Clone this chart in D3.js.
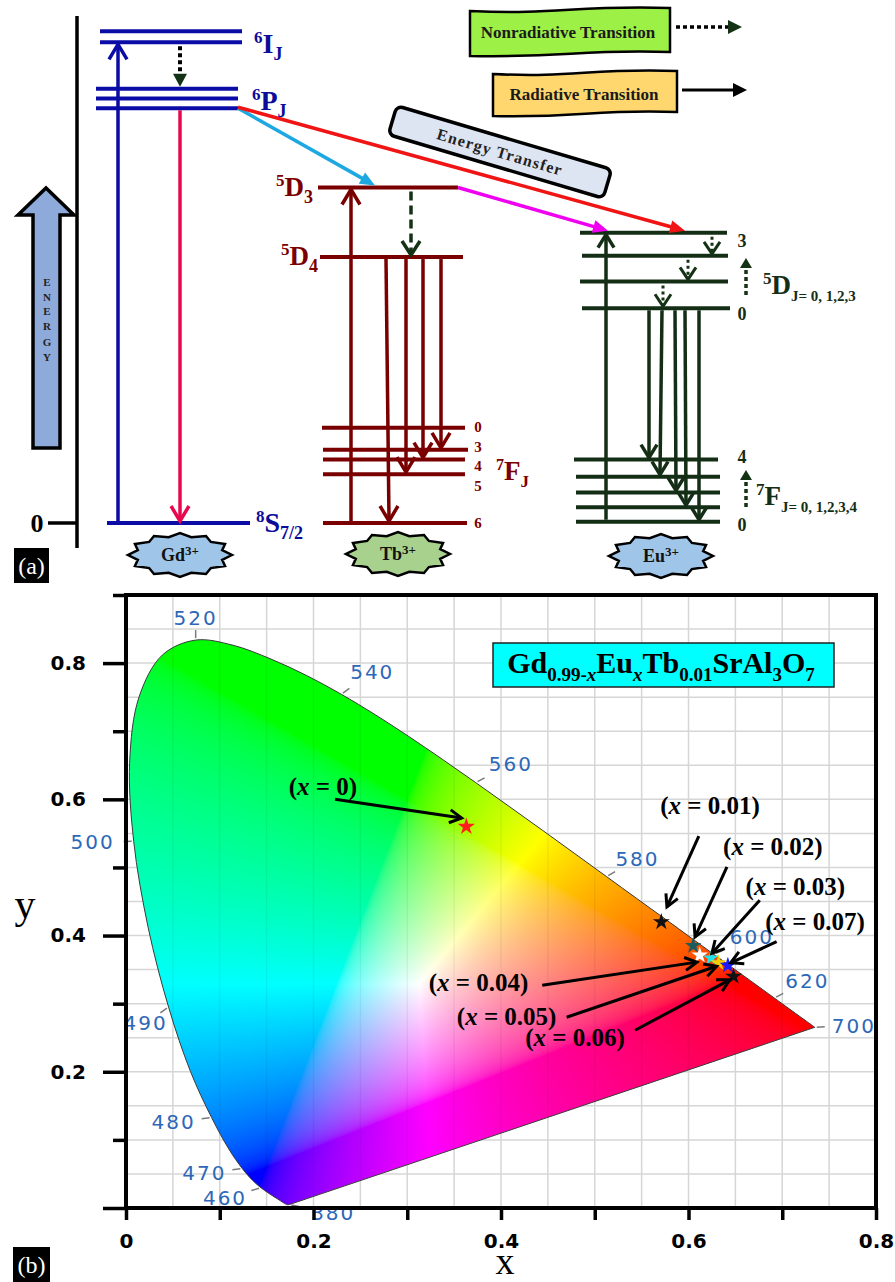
<!DOCTYPE html>
<html>
<head>
<meta charset="utf-8">
<script src="https://cdn.jsdelivr.net/npm/d3@7"></script>
<style>
body { margin: 0; background: #fff; }
svg { display: block; }
text { font-family: "Liberation Serif", "Times New Roman", serif; }
</style>
</head>
<body>
<svg id="fig" width="895" height="1282"></svg>
<script>
// ---------- (a) energy levels, schematic energy (10^3 cm-1)
const gdNames = ["6I_1", "6I_2", "6P_1", "6P_2", "6P_3", "8S"];
const gdE = [40.3, 39.4, 35.6, 34.8, 34.0, 0];
const tbNames = ["5D3", "5D4", "7F0", "7F3", "7F4", "7F5", "7F6"];
const tbE = [27.5, 21.8, 7.8, 6.0, 5.2, 4.0, 0];
const euNames = ["5D3", "5D2", "5D1", "5D0", "7F4", "7F3", "7F2", "7F1", "7F0"];
const euE = [23.8, 21.9, 19.8, 17.6, 5.2, 3.8, 2.5, 1.3, 0.1];

// transitions: kind, from level, to level
const gdTrans = [["abs", "8S", "6I_2"], ["nr", "6I_2", "6P_1"], ["em", "6P_3", "8S"]];
const tbTrans = [["abs", "7F6", "5D3"], ["nr", "5D3", "5D4"], ["em", "5D4", "7F6"],
                 ["em", "5D4", "7F5"], ["em", "5D4", "7F4"], ["em", "5D4", "7F3"]];
const euTrans = [["abs", "7F0", "5D3"], ["nr", "5D3", "5D2"], ["nr", "5D2", "5D1"], ["nr", "5D1", "5D0"],
                 ["em", "5D0", "7F4"], ["em", "5D0", "7F3"], ["em", "5D0", "7F2"], ["em", "5D0", "7F1"], ["em", "5D0", "7F0"]];
// energy transfer: from ion/level to ion/level
const transfers = [["Gd", "6P_3", "Tb", "5D3"], ["Gd", "6P_3", "Eu", "5D3"], ["Tb", "5D3", "Eu", "5D3"]];

// ---------- (b) CIE 1931 spectral locus
const locusNm = [380,385,390,395,400,405,410,415,420,425,430,435,440,445,450,455,460,465,470,475,480,485,490,495,500,505,510,515,520,525,530,535,540,545,550,555,560,565,570,575,580,585,590,595,600,605,610,615,620,625,630,635,640,645,650,655,660,665,670,675,680,685,690,695,700];
const locusX = [0.1741,0.1740,0.1738,0.1736,0.1733,0.1730,0.1726,0.1721,0.1714,0.1703,0.1689,0.1669,0.1644,0.1611,0.1566,0.1510,0.1440,0.1355,0.1241,0.1096,0.0913,0.0687,0.0454,0.0235,0.0082,0.0039,0.0139,0.0389,0.0743,0.1142,0.1547,0.1929,0.2296,0.2658,0.3016,0.3373,0.3731,0.4087,0.4441,0.4788,0.5125,0.5448,0.5752,0.6029,0.6270,0.6482,0.6658,0.6801,0.6915,0.7006,0.7079,0.7140,0.7190,0.7230,0.7260,0.7283,0.7300,0.7311,0.7320,0.7327,0.7334,0.7340,0.7344,0.7346,0.7347];
const locusY = [0.0050,0.0050,0.0049,0.0049,0.0048,0.0048,0.0048,0.0048,0.0051,0.0058,0.0069,0.0086,0.0109,0.0138,0.0177,0.0227,0.0297,0.0399,0.0578,0.0868,0.1327,0.2007,0.2950,0.4127,0.5384,0.6548,0.7502,0.8120,0.8338,0.8262,0.8059,0.7816,0.7543,0.7243,0.6923,0.6589,0.6245,0.5896,0.5547,0.5202,0.4866,0.4544,0.4242,0.3965,0.3725,0.3514,0.3340,0.3197,0.3083,0.2993,0.2920,0.2859,0.2809,0.2770,0.2740,0.2717,0.2700,0.2689,0.2680,0.2673,0.2666,0.2660,0.2656,0.2654,0.2653];
const wlLabels = [460, 470, 480, 490, 500, 520, 540, 560, 580, 600, 620, 700, 380];

// measured CIE coordinates
const dopings = ["0", "0.01", "0.02", "0.03", "0.04", "0.05", "0.06", "0.07"];
const cieX = [0.363, 0.571, 0.605, 0.624, 0.612, 0.632, 0.648, 0.642];
const cieY = [0.560, 0.420, 0.385, 0.367, 0.371, 0.360, 0.340, 0.356];

const xTicks = [0, 0.1, 0.2, 0.3, 0.4, 0.5, 0.6, 0.7, 0.8];
const yMajor = [0, 0.2, 0.4, 0.6, 0.8];
const yMinor = [0.1, 0.3, 0.5, 0.7, 0.9];

const svg = d3.select("#fig");
svg.append("rect").attr("width", 895).attr("height", 1282).attr("fill", "#fff");

// ---------------- helpers
function richText(g, x, y, parts, size, fill, anchor) {
    const t = g.append("text")
        .attr("x", x).attr("y", y)
        .attr("font-size", size)
        .attr("font-weight", "bold")
        .attr("fill", fill)
        .attr("text-anchor", anchor || "start");
    let shift = 0;
    parts.forEach(p => {
        const s = p.size || (p.sub || p.sup ? Math.round(size * 0.62) : size);
        const off = p.sub ? size * 0.26 : p.sup ? -size * 0.36 : 0;
        const ts = t.append("tspan").attr("dy", off - shift).attr("font-size", s).text(p.t);
        if (p.it) ts.attr("font-style", "italic");
        shift = off;
    });
    return t;
}

function chevron(g, x, y, dir, hw, hl, color, sw) {
    g.append("path")
        .attr("d", `M${x - hw},${y - dir * hl}L${x},${y}L${x + hw},${y - dir * hl}`)
        .attr("fill", "none").attr("stroke", color).attr("stroke-width", sw)
        .attr("stroke-linejoin", "miter").attr("stroke-linecap", "butt");
}

function headTowards(g, x1, y1, x2, y2, len, hw, color, filled, sw) {
    const a = Math.atan2(y2 - y1, x2 - x1);
    const bx = x2 - len * Math.cos(a), by = y2 - len * Math.sin(a);
    const px = -Math.sin(a) * hw, py = Math.cos(a) * hw;
    const p = g.append("path");
    if (filled) {
        p.attr("d", `M${x2},${y2}L${bx + px},${by + py}L${bx - px},${by - py}Z`).attr("fill", color);
    } else {
        p.attr("d", `M${bx + px},${by + py}L${x2},${y2}L${bx - px},${by - py}`)
            .attr("fill", "none").attr("stroke", color).attr("stroke-width", sw);
    }
}

// ---------------- panel (a)
const gA = svg.append("g");
const yE = d3.scaleLinear().domain([0, 40]).range([523, 35]);

const ionColor = { Gd: "#0b0ba6", Tb: "#7a0000", Eu: "#142e16" };
const levelE = {
    Gd: Object.fromEntries(gdNames.map((n, i) => [n, gdE[i]])),
    Tb: Object.fromEntries(tbNames.map((n, i) => [n, tbE[i]])),
    Eu: Object.fromEntries(euNames.map((n, i) => [n, euE[i]]))
};
// horizontal extent of each level line
const levelSpan = {
    Gd: [[100, 242], [100, 242], [96, 238], [96, 238], [96, 238], [107, 250]],
    Tb: [[318, 458], [320, 463], [322, 465], [323, 468], [323, 465], [323, 465], [323, 467]],
    Eu: [[580, 727], [582, 728], [580, 728], [582, 730], [574, 718], [576, 720], [576, 720], [576, 720], [576, 720]]
};
// x of each transition arrow (top, bottom)
const transX = {
    Gd: [[118, 118], [180, 180], [180, 180]],
    Tb: [[351, 351], [411, 411], [386, 389], [406, 406], [423, 423], [441, 441]],
    Eu: [[606, 606], [712, 712], [688, 688], [663, 663], [649, 649], [662, 660], [675, 676], [685, 686], [699, 699]]
};

// energy axis
gA.append("line").attr("x1", 77).attr("x2", 77).attr("y1", 16).attr("y2", 548)
    .attr("stroke", "#000").attr("stroke-width", 3.5);
gA.append("line").attr("x1", 48).attr("x2", 77).attr("y1", yE(0)).attr("y2", yE(0))
    .attr("stroke", "#000").attr("stroke-width", 3.5);
gA.append("text").attr("x", 37).attr("y", yE(0)).attr("dy", "0.36em").attr("text-anchor", "middle")
    .attr("font-size", 26).attr("font-weight", "bold").text("0");

// ENERGY block arrow
gA.append("path")
    .attr("d", "M33,448L33,215L18,215L46,188L74,215L60,215L60,448Z")
    .attr("fill", "#8eaadb").attr("stroke", "#000").attr("stroke-width", 3.5).attr("stroke-linejoin", "miter");
"ENERGY".split("").forEach((c, i) => {
    gA.append("text").attr("x", 47).attr("y", [282, 297, 311, 326, 342, 357][i]).attr("dy", "0.35em")
        .attr("text-anchor", "middle").attr("font-size", 11).attr("font-weight", "bold").attr("fill", "#222").text(c);
});

// levels
[["Gd", gdNames], ["Tb", tbNames], ["Eu", euNames]].forEach(([ion, names]) => {
    names.forEach((n, i) => {
        const y = yE(levelE[ion][n]);
        gA.append("line")
            .attr("x1", levelSpan[ion][i][0]).attr("x2", levelSpan[ion][i][1])
            .attr("y1", y).attr("y2", y)
            .attr("stroke", ionColor[ion]).attr("stroke-width", 4);
    });
});

// energy transfer lines (drawn under the arrows)
const etColors = ["#1ea8e2", "#f01414", "#f000f0"];
const etTargetX = [375, 685, 608];
transfers.forEach((t, i) => {
    const names = { Gd: gdNames, Tb: tbNames, Eu: euNames };
    const srcSpan = levelSpan[t[0]][names[t[0]].indexOf(t[1])];
    const x1 = srcSpan[1], y1 = yE(levelE[t[0]][t[1]]) - (i === 1 ? 1 : 0);
    const x2 = etTargetX[i], y2 = yE(levelE[t[2]][t[3]]) - 2;
    const a = Math.atan2(y2 - y1, x2 - x1);
    gA.append("line").attr("x1", x1).attr("y1", y1)
        .attr("x2", x2 - 12 * Math.cos(a)).attr("y2", y2 - 12 * Math.sin(a))
        .attr("stroke", etColors[i]).attr("stroke-width", 3.5);
    headTowards(gA, x1, y1, x2, y2, 15, 6.5, etColors[i], true);
});

// transitions
const nrGreen = "#143214";
[["Gd", gdTrans], ["Tb", tbTrans], ["Eu", euTrans]].forEach(([ion, list]) => {
    list.forEach((t, i) => {
        const [kind, from, to] = t;
        const [xa, xb] = transX[ion][i];
        const y1 = yE(levelE[ion][from]), y2 = yE(levelE[ion][to]);
        const dir = y2 > y1 ? 1 : -1;
        const tip = y2 - dir * 2;
        const col = ion === "Gd" && kind === "em" ? "#e8084e" : ionColor[ion];
        if (kind === "abs" || kind === "em") {
            gA.append("line").attr("x1", xa).attr("y1", y1 + dir * 2).attr("x2", xb).attr("y2", tip - dir * 1.5)
                .attr("stroke", col).attr("stroke-width", 3.5);
            chevron(gA, xb, tip, dir, ion === "Eu" ? 8 : 9, ion === "Eu" ? 13 : 15, col, 3.5);
        } else if (ion === "Gd") {
            gA.append("line").attr("x1", xa).attr("y1", y1 + 4).attr("x2", xb).attr("y2", tip - 11)
                .attr("stroke", "#000").attr("stroke-width", 4).attr("stroke-dasharray", "4,3");
            gA.append("path").attr("d", `M${xb - 7},${tip - 13}L${xb + 7},${tip - 13}L${xb},${tip}Z`).attr("fill", nrGreen);
        } else if (ion === "Tb") {
            gA.append("line").attr("x1", xa).attr("y1", y1 + 4).attr("x2", xb).attr("y2", tip - 2)
                .attr("stroke", nrGreen).attr("stroke-width", 3.5).attr("stroke-dasharray", "9,5");
            chevron(gA, xb, tip, dir, 9, 14, nrGreen, 3.5);
        } else {
            gA.append("line").attr("x1", xa).attr("y1", y1 + 4).attr("x2", xb).attr("y2", tip - 2)
                .attr("stroke", nrGreen).attr("stroke-width", 3).attr("stroke-dasharray", "3,3");
            chevron(gA, xb, tip, dir, 8, 12, nrGreen, 3);
        }
    });
});

// level labels
richText(gA, 254, 53, [{ t: "6", sup: true, size: 17 }, { t: "I" }, { t: "J", sub: true, size: 18 }], 28, "#0c0c9a");
richText(gA, 252, 110, [{ t: "6", sup: true, size: 17 }, { t: "P" }, { t: "J", sub: true, size: 18 }], 28, "#0c0c9a");
richText(gA, 256, 532, [{ t: "8", sup: true, size: 17 }, { t: "S" }, { t: "7/2", sub: true, size: 18 }], 28, "#0c0c9a");
richText(gA, 313, 196, [{ t: "5", sup: true, size: 17 }, { t: "D" }, { t: "3", sub: true, size: 18 }], 27, "#7a0000", "end");
richText(gA, 318, 265, [{ t: "5", sup: true, size: 17 }, { t: "D" }, { t: "4", sub: true, size: 18 }], 27, "#7a0000", "end");
richText(gA, 496, 480, [{ t: "7", sup: true, size: 16 }, { t: "F" }, { t: "J", sub: true, size: 17 }], 27, "#7a0000");
["0", "3", "4", "5", "6"].forEach((j, i) => {
    gA.append("text").attr("x", 478).attr("y", [427, 447, 466, 486, 523][i]).attr("dy", "0.35em")
        .attr("text-anchor", "middle").attr("font-size", 15).attr("font-weight", "bold").attr("fill", "#7a0000").text(j);
});
[["3", 241], ["0", 314], ["4", 457], ["0", 525]].forEach(([j, y]) => {
    gA.append("text").attr("x", 742).attr("y", y).attr("dy", "0.35em")
        .attr("text-anchor", "middle").attr("font-size", 18).attr("font-weight", "bold").attr("fill", "#142e16").text(j);
});
richText(gA, 763, 294, [{ t: "5", sup: true, size: 17 }, { t: "D" }, { t: "J= 0, 1,2,3", sub: true, size: 15 }], 27, "#142e16");
richText(gA, 756, 505, [{ t: "7", sup: true, size: 17 }, { t: "F" }, { t: "J= 0, 1,2,3,4", sub: true, size: 15 }], 27, "#142e16");
// small dotted up arrows beside Eu manifolds
[[295, 258], [507, 470]].forEach(([y0, y1]) => {
    gA.append("line").attr("x1", 746).attr("x2", 746).attr("y1", y0).attr("y2", y1 + 9)
        .attr("stroke", nrGreen).attr("stroke-width", 3.5).attr("stroke-dasharray", "4,3");
    gA.append("path").attr("d", `M740,${y1 + 10}L752,${y1 + 10}L746,${y1}Z`).attr("fill", nrGreen);
});

// energy transfer label
const etBox = gA.append("g").attr("transform", "translate(500,152) rotate(16.5)");
etBox.append("rect").attr("x", -112).attr("y", -15).attr("width", 224).attr("height", 30).attr("rx", 6)
    .attr("fill", "#dde5f3").attr("stroke", "#000").attr("stroke-width", 3.5);
etBox.append("text").attr("x", 0).attr("y", 0).attr("dy", "0.35em").attr("text-anchor", "middle")
    .attr("font-size", 16).attr("font-weight", "bold").attr("letter-spacing", 1.2).attr("fill", "#222")
    .text("Energy  Transfer");

// legend banners
function wavePath(x0, y0, x1, y1) {
    const w = x1 - x0;
    return `M${x0},${y0 + 3}C${x0 + w * 0.45},${y0 + 7} ${x0 + w * 0.52},${y0 - 3} ${x1},${y0}` +
        `L${x1},${y1 - 4}C${x0 + w * 0.55},${y1 - 7} ${x0 + w * 0.48},${y1 + 2} ${x0},${y1}Z`;
}
gA.append("path").attr("d", wavePath(470, 8, 670, 56)).attr("fill", "#9cf046").attr("stroke", "#000").attr("stroke-width", 2.5);
gA.append("text").attr("x", 568).attr("y", 32).attr("dy", "0.35em").attr("text-anchor", "middle")
    .attr("font-size", 17).attr("font-weight", "bold").attr("fill", "#1a1a1a").text("Nonradiative Transition");
gA.append("line").attr("x1", 676).attr("x2", 728).attr("y1", 27).attr("y2", 27)
    .attr("stroke", "#000").attr("stroke-width", 3.5).attr("stroke-dasharray", "4,3");
gA.append("path").attr("d", "M728,20L728,34L742,27Z").attr("fill", nrGreen);

gA.append("path").attr("d", wavePath(493, 71, 677, 116)).attr("fill", "#ffd76e").attr("stroke", "#000").attr("stroke-width", 2.5);
gA.append("text").attr("x", 584).attr("y", 94).attr("dy", "0.35em").attr("text-anchor", "middle")
    .attr("font-size", 17).attr("font-weight", "bold").attr("fill", "#1a1a1a").text("Radiative Transition");
gA.append("line").attr("x1", 682).attr("x2", 736).attr("y1", 90).attr("y2", 90).attr("stroke", "#000").attr("stroke-width", 3);
gA.append("path").attr("d", "M733,83L733,97L747,90Z").attr("fill", "#000");

// ion badges
function sealPath(cx, cy, rx, ry, n) {
    const pts = [];
    for (let k = 0; k < 2 * n; k++) {
        const a = Math.PI * k / n;
        const r = k % 2 === 0 ? 1 : 0.84;
        pts.push([cx + rx * r * Math.cos(a), cy + ry * r * Math.sin(a)]);
    }
    return "M" + pts.map(p => p.join(",")).join("L") + "Z";
}
[["Gd", 180, 555, "#9fc5e8"], ["Tb", 398, 554, "#a9d18e"], ["Eu", 661, 556, "#9fc5e8"]].forEach(([ion, cx, cy, fill]) => {
    gA.append("path").attr("d", sealPath(cx, cy, 52, 22, 12)).attr("fill", fill)
        .attr("stroke", "#000").attr("stroke-width", 2.5).attr("stroke-linejoin", "miter");
    richText(gA, cx, cy + 6, [{ t: ion }, { t: "3+", sup: true, size: 13 }], 18, "#111", "middle");
});

// panel tags
function panelTag(x, y, w, h, label) {
    svg.append("rect").attr("x", x).attr("y", y).attr("width", w).attr("height", h).attr("fill", "#000");
    svg.append("text").attr("x", x + w / 2).attr("y", y + h / 2).attr("dy", "0.35em").attr("text-anchor", "middle")
        .attr("font-size", 24).attr("fill", "#fff").text(label);
}
panelTag(14, 548, 35, 35, "(a)");

// ---------------- panel (b)
const gB = svg.append("g");
const xS = d3.scaleLinear().domain([0, 0.8]).range([126, 876]);
const yS = d3.scaleLinear().domain([0, 0.9]).range([1208, 595]);
const grid = d3.range(1, 18).map(k => k * 0.05);

// grid
gB.selectAll(".gx").data(grid.filter(v => v < 0.8)).enter().append("line")
    .attr("x1", d => xS(d)).attr("x2", d => xS(d)).attr("y1", yS(0.9)).attr("y2", yS(0))
    .attr("stroke", "#d6d6d6").attr("stroke-width", 1.5);
gB.selectAll(".gy").data(grid).enter().append("line")
    .attr("y1", d => yS(d)).attr("y2", d => yS(d)).attr("x1", xS(0)).attr("x2", xS(0.8))
    .attr("stroke", "#d6d6d6").attr("stroke-width", 1.5);

// chromaticity fill drawn on a canvas and clipped to the locus
const locus = locusNm.map((nm, i) => [xS(locusX[i]), yS(locusY[i])]);
const locusPath = d3.line().curve(d3.curveCatmullRom)(locus) + "Z";
svg.append("defs").append("clipPath").attr("id", "locusClip").append("path").attr("d", locusPath);

function xyToRgb(x, y) {
    if (y <= 1e-4) return [0, 0, 0];
    const X = x / y, Z = (1 - x - y) / y;
    let r = Math.max(0, 3.2406 * X - 1.5372 - 0.4986 * Z);
    let g = Math.max(0, -0.9689 * X + 1.8758 + 0.0415 * Z);
    let b = Math.max(0, 0.0557 * X - 0.2040 + 1.0570 * Z);
    const m = Math.max(r, g, b) || 1;
    return [r / m, g / m, b / m].map(v =>
        Math.round(255 * (v <= 0.0031308 ? 12.92 * v : 1.055 * Math.pow(v, 1 / 2.4) - 0.055)));
}
const cw = 750, ch = 613;
const canvas = document.createElement("canvas");
canvas.width = cw; canvas.height = ch;
const ctx = canvas.getContext("2d");
const img = ctx.createImageData(cw, ch);
for (let j = 0; j < ch; j++) {
    const yv = yS.invert(595 + j + 0.5);
    for (let i = 0; i < cw; i++) {
        const xv = xS.invert(126 + i + 0.5);
        const c = xyToRgb(xv, yv);
        const o = 4 * (j * cw + i);
        img.data[o] = c[0]; img.data[o + 1] = c[1]; img.data[o + 2] = c[2]; img.data[o + 3] = 255;
    }
}
ctx.putImageData(img, 0, 0);
gB.append("image").attr("x", 126).attr("y", 595).attr("width", cw).attr("height", ch)
    .attr("href", canvas.toDataURL()).attr("clip-path", "url(#locusClip)");

// faint grid over the fill
gB.selectAll(".gx2").data(grid.filter(v => v < 0.8)).enter().append("line")
    .attr("x1", d => xS(d)).attr("x2", d => xS(d)).attr("y1", yS(0.9)).attr("y2", yS(0))
    .attr("stroke", "rgba(0,0,0,0.05)").attr("stroke-width", 1.5).attr("clip-path", "url(#locusClip)");
gB.append("path").attr("d", locusPath).attr("fill", "none").attr("stroke", "#3a3a3a").attr("stroke-width", 1);

// wavelength marks
const wlOffset = [[-36, 10], [-38, 4], [-38, 4], [-23, 16], [-41, 1], [0, -22], [31, -22], [35, -19],
                  [31, -18], [38, -17], [33, -17], [39, -2], [44, 8]];
wlLabels.forEach((nm, i) => {
    const k = locusNm.indexOf(nm);
    const px = xS(locusX[k]), py = yS(locusY[k]);
    const [dx, dy] = wlOffset[i];
    const len = Math.hypot(dx, dy), ux = dx / len, uy = dy / len;
    gB.append("line").attr("x1", px + 2 * ux).attr("y1", py + 2 * uy).attr("x2", px + 10 * ux).attr("y2", py + 10 * uy)
        .attr("stroke", "#7a7a7a").attr("stroke-width", 1.5);
    gB.append("text").attr("x", px + dx).attr("y", py + dy).attr("dy", "0.36em").attr("text-anchor", "middle")
        .style("font-family", "'DejaVu Sans', Verdana, sans-serif").attr("font-size", 20)
        .attr("letter-spacing", 2).attr("fill", "#2d68b8").text(nm);
});

// axes
const tickFont = "'DejaVu Sans', Arial, sans-serif";
const axY1 = gB.append("g").attr("transform", `translate(${xS(0)},0)`)
    .call(d3.axisLeft(yS).tickValues(yMajor).tickSize(23).tickPadding(17)
        .tickFormat(d => d === 0 ? "" : d3.format(".1f")(d)));
const axY2 = gB.append("g").attr("transform", `translate(${xS(0)},0)`)
    .call(d3.axisLeft(yS).tickValues(yMinor).tickSize(13).tickFormat(""));
const axX = gB.append("g").attr("transform", `translate(0,${yS(0)})`)
    .call(d3.axisBottom(xS).tickValues(xTicks).tickSize(12).tickPadding(14)
        .tickFormat(d => [0, 0.2, 0.4, 0.6, 0.8].includes(d) ? (d === 0 ? "0" : d3.format(".1f")(d)) : ""));
[axY1, axY2, axX].forEach(ax => {
    ax.select(".domain").remove();
    ax.selectAll(".tick line").attr("stroke", "#000").attr("stroke-width", 3.5);
    ax.selectAll(".tick text").style("font-family", tickFont).attr("font-size", 20)
        .attr("font-weight", "bold").attr("fill", "#000");
});
gB.append("rect").attr("x", xS(0)).attr("y", yS(0.9)).attr("width", xS(0.8) - xS(0)).attr("height", yS(0) - yS(0.9))
    .attr("fill", "none").attr("stroke", "#000").attr("stroke-width", 4);
gB.append("text").attr("x", 25).attr("y", 918).attr("text-anchor", "middle").attr("font-size", 42).text("y");
gB.append("text").attr("x", 505).attr("y", 1274).attr("text-anchor", "middle").attr("font-size", 38).text("x");

// composition box
gB.append("rect").attr("x", 493).attr("y", 643).attr("width", 341).attr("height", 44)
    .attr("fill", "#00ffff").attr("stroke", "#222").attr("stroke-width", 1.5);
richText(gB, 661, 673, [
    { t: "Gd" }, { t: "0.99-", sub: true, size: 19 }, { t: "x", sub: true, size: 19, it: true },
    { t: "Eu" }, { t: "x", sub: true, size: 19, it: true },
    { t: "Tb" }, { t: "0.01", sub: true, size: 19 },
    { t: "SrAl" }, { t: "3", sub: true, size: 19 },
    { t: "O" }, { t: "7", sub: true, size: 19 }
], 30, "#000", "middle");

// annotation layout (data units): label centre, arrow start, arrow end
const annLabel = [[0.210, 0.618], [0.623, 0.590], [0.690, 0.530], [0.714, 0.471], [0.376, 0.330], [0.406, 0.280], [0.479, 0.249], [0.735, 0.420]];
const annFrom = [[0.223, 0.600], [0.611, 0.546], [0.641, 0.501], [0.676, 0.452], [0.444, 0.327], [0.470, 0.280], [0.543, 0.261], [0.694, 0.391]];
const annTo = [[0.358, 0.5725], [0.577, 0.442], [0.607, 0.398], [0.625, 0.374], [0.609, 0.361], [0.630, 0.355], [0.644, 0.335], [0.645, 0.360]];
const starColor = ["#ff1f1f", "#111111", "#1d5c5c", "#22e3ea", "#ffffff", "#f8d000", "#111111", "#1a1aff"];
const starSize = [95, 90, 85, 80, 85, 80, 90, 85];

dopings.forEach((d, i) => {
    gB.append("path")
        .attr("d", d3.symbol(d3.symbolStar).size(starSize[i])())
        .attr("transform", `translate(${xS(cieX[i])},${yS(cieY[i])})`)
        .attr("fill", starColor[i]);
});
dopings.forEach((d, i) => {
    const x1 = xS(annFrom[i][0]), y1 = yS(annFrom[i][1]);
    const x2 = xS(annTo[i][0]), y2 = yS(annTo[i][1]);
    gB.append("line").attr("x1", x1).attr("y1", y1).attr("x2", x2).attr("y2", y2)
        .attr("stroke", "#000").attr("stroke-width", 3);
    headTowards(gB, x1, y1, x2, y2, 12, 6.5, "#000", false, 3);
    richText(gB, xS(annLabel[i][0]), yS(annLabel[i][1]) + 8,
        [{ t: "(" }, { t: "x", it: true }, { t: " = " + d + ")" }], 25, "#000", "middle");
});

panelTag(13, 1247, 37, 35, "(b)");
</script>
</body>
</html>
